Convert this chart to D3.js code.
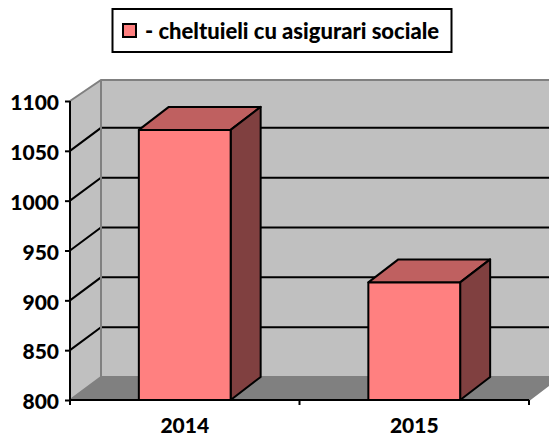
<!DOCTYPE html>
<html><head><meta charset="utf-8">
<script src="https://cdn.jsdelivr.net/npm/d3@7"></script>
<style>html,body{margin:0;padding:0;background:#fff}svg{display:block}text{font-family:Lato,sans-serif;font-weight:700;fill:#000}</style>
</head><body><svg id="c" width="549" height="439"></svg>
<script>
const categories = ["2014","2015"];
const values = [1071,918];
const yTicks = [800,850,900,950,1000,1050,1100];
const legendLabel = "- cheltuieli cu asigurari sociale";

const svg = d3.select("#c");
const y = d3.scaleLinear().domain([800,1100]).range([400,101]);
const x = d3.scaleBand().domain(categories).range([70,529]).paddingInner(0.6).paddingOuter(0.3);
const dx = 30, dy = -23;
const poly = (pts,fill,stroke,sw)=>svg.append("polygon").attr("points",pts.map(p=>p.join(",")).join(" ")).attr("fill",fill).attr("stroke",stroke).attr("stroke-width",sw).attr("stroke-linejoin","round");
const x0=70,x1=529,yb=y(800),yt=y(1100);

// walls
poly([[x0,yb],[x0+dx+1,yb+dy],[x0+dx+1,yt+dy+2],[x0,yt]],"#c0c0c0","none",0);
poly([[x0+dx+1,yb+dy],[x1+dx,yb+dy],[x1+dx,yt+dy+2],[x0+dx+1,yt+dy+2]],"#c0c0c0","none",0);
poly([[x0,yb],[x1,yb],[x1+dx,yb+dy],[x0+dx+1,yb+dy]],"#808080","none",0);

// gridlines
yTicks.slice(1,-1).forEach(t=>{
  svg.append("path").attr("d",`M${x0},${y(t)}L${x0+dx+1},${y(t)+dy}L${x1+dx},${y(t)+dy}`).attr("fill","none").attr("stroke","#000").attr("stroke-width",2);
});
// wall edges
svg.append("path").attr("d",`M${x0},${yt}L${x0+dx+1},${yt+dy+2}L${x1+dx},${yt+dy+2}M${x0+dx+1},${yt+dy+2}L${x0+dx+1},${yb+dy}L${x1+dx},${yb+dy}M${x0},${yb}L${x0+dx+1},${yb+dy}M${x1},${yb}L${x1+dx},${yb+dy}`)
  .attr("fill","none").attr("stroke","#808080").attr("stroke-width",2);

// bars
categories.forEach((c,i)=>{
  const l=x(c), r=l+x.bandwidth(), t=y(values[i]), b=y(800);
  poly([[l,t],[r,t],[r+dx,t+dy],[l+dx,t+dy]],"#bf6060","#000",2);
  poly([[r,t],[r+dx,t+dy],[r+dx,b+dy],[r,b]],"#804040","#000",2);
  poly([[l,t],[r,t],[r,b],[l,b]],"#ff8080","#000",2);
});

// axes
const yAxis = svg.append("g").attr("transform",`translate(${x0},0)`).call(d3.axisLeft(y).tickValues(yTicks).tickFormat(d3.format("d")).tickSize(5).tickPadding(6));
yAxis.selectAll("path,line").attr("stroke","#000").attr("stroke-width",2);
yAxis.select("path").attr("d",`M0,${yt}V${yb}`);
yAxis.selectAll("text").attr("font-size",21).attr("dy","0.42em").style("font-family","Lato,sans-serif").style("font-weight",900);

const xAxis = svg.append("g").attr("transform",`translate(0,${yb})`).call(d3.axisBottom(x).tickSize(0).tickPadding(18));
xAxis.select("path").attr("d",`M${x0},0H${x1}`).attr("stroke","#000").attr("stroke-width",2);
xAxis.selectAll("text").attr("font-size",21).style("font-family","Lato,sans-serif").style("font-weight",900);
[x0,(x0+x1)/2,x1].forEach(p=>svg.append("line").attr("x1",p).attr("x2",p).attr("y1",yb).attr("y2",yb+5).attr("stroke","#000").attr("stroke-width",2));

// legend
svg.append("rect").attr("x",112.5).attr("y",9).attr("width",339).attr("height",43).attr("fill","#fff").attr("stroke","#000").attr("stroke-width",2);
svg.append("rect").attr("x",123).attr("y",24).attr("width",13).attr("height",13).attr("fill","#ff8080").attr("stroke","#000").attr("stroke-width",2);
svg.append("text").attr("x",145).attr("y",39).attr("font-size",22).style("font-weight",900).text(legendLabel);
</script></body></html>
